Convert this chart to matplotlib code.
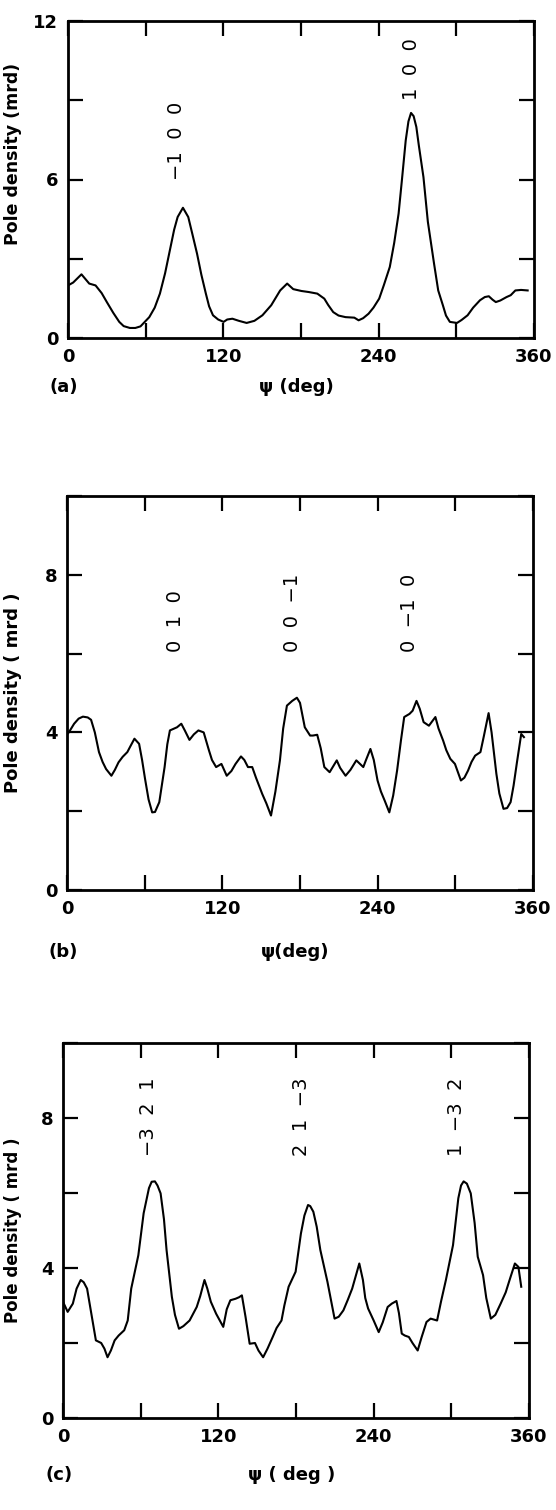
import matplotlib
matplotlib.use('Agg')
import matplotlib.pyplot as plt
from matplotlib.ticker import MultipleLocator, NullFormatter

plt.rcParams['font.family'] = ['DejaVu Sans']

# panel (a)
psi_a = [0, 4, 10.4, 16.4, 21.3, 26, 30, 35, 39.6, 43, 47.8, 52, 56, 62.8, 67, 71, 75, 79.2, 82,
         84.7, 88.8, 92.9, 96, 99.7, 103, 106.5, 109, 112, 116, 120.2, 123, 127, 132, 138, 144,
         150.2, 157, 163.9, 169.3, 174, 180.3, 186, 192.6, 198, 201, 204.9, 209, 214.4, 221.2,
         224.5, 228, 232.2, 236, 240.4, 244, 248.6, 252, 255.4, 258, 260.9, 263, 265, 267,
         269.1, 271, 274.6, 278, 282.8, 286, 289.6, 292, 295, 300.5, 304, 308.7, 313, 318.3,
         322, 325.1, 328, 330.5, 334, 338.8, 342, 345.6, 350, 355.1]
pd_a = [1.99, 2.1, 2.41, 2.06, 1.99, 1.7, 1.36, 0.95, 0.61, 0.45, 0.38, 0.38, 0.44, 0.79, 1.15,
        1.68, 2.45, 3.44, 4.1, 4.58, 4.93, 4.58, 3.95, 3.19, 2.4, 1.68, 1.2, 0.86, 0.7, 0.61,
        0.7, 0.73, 0.65, 0.57, 0.65, 0.86, 1.24, 1.8, 2.06, 1.85, 1.78, 1.74, 1.68, 1.49, 1.25,
        0.98, 0.85, 0.79, 0.77, 0.67, 0.75, 0.92, 1.15, 1.49, 2.0, 2.69, 3.6, 4.71, 6.0, 7.48,
        8.2, 8.52, 8.4, 7.99, 7.3, 6.09, 4.4, 2.81, 1.8, 1.24, 0.85, 0.61, 0.57, 0.68, 0.86,
        1.15, 1.43, 1.55, 1.58, 1.45, 1.36, 1.42, 1.55, 1.62, 1.80, 1.82, 1.80]
lab_a = ['\u22121  0  0', '1  0  0']
lab_a_x = [84, 265]
lab_a_y = [6.0, 9.0]

# panel (b)
psi_b = [0, 1.4, 5.5, 9, 12.3, 16, 18.6, 21.5, 24.7, 27.5, 30.2, 34.3, 37, 39.8, 43, 46.6, 49,
         52.1, 55.7, 58, 60.3, 63, 65.8, 68, 71.3, 73, 75.4, 77.5, 79.5, 85, 88.3, 91, 94.6,
         98, 101.5, 105.6, 109.7, 112, 115.2, 119.3, 123.4, 127, 130.2, 134.4, 137, 139.8,
         143.1, 146, 150.8, 154, 157.6, 161, 164.5, 167, 169.9, 174, 177.6, 180, 183.7, 187.8,
         190, 193.3, 196, 198.8, 202.9, 208.4, 211, 215.2, 219, 223.5, 228.9, 231, 234.4, 237,
         239.9, 242.5, 245.4, 249, 252, 255, 258, 260.5, 264.6, 267, 270, 272.5, 275.5, 279.6,
         284.6, 287, 290.6, 293, 296.1, 299.7, 304.3, 307, 309.8, 312.5, 315.3, 319.4, 322,
         325.7, 328, 331.7, 334, 337.2, 340, 342.7, 345, 347.6, 350.9, 353]
pd_b = [3.95, 4.0, 4.22, 4.35, 4.40, 4.38, 4.32, 4.0, 3.50, 3.25, 3.07, 2.90, 3.05, 3.24, 3.38,
        3.50, 3.65, 3.84, 3.71, 3.3, 2.82, 2.3, 1.97, 1.98, 2.23, 2.6, 3.12, 3.7, 4.05, 4.13,
        4.22, 4.05, 3.81, 3.95, 4.05, 4.0, 3.54, 3.3, 3.12, 3.20, 2.90, 3.02, 3.20, 3.39, 3.3,
        3.12, 3.12, 2.85, 2.44, 2.2, 1.89, 2.5, 3.29, 4.1, 4.68, 4.8, 4.88, 4.75, 4.13, 3.92,
        3.92, 3.94, 3.6, 3.12, 2.99, 3.29, 3.1, 2.90, 3.05, 3.29, 3.12, 3.3, 3.58, 3.3, 2.78,
        2.5, 2.27, 1.97, 2.4, 3.03, 3.8, 4.39, 4.47, 4.55, 4.80, 4.6, 4.26, 4.17, 4.39, 4.1,
        3.79, 3.55, 3.33, 3.20, 2.78, 2.85, 3.03, 3.25, 3.41, 3.50, 3.9, 4.49, 4.0, 2.95, 2.45,
        2.06, 2.08, 2.23, 2.65, 3.24, 3.96, 3.88]
lab_b = ['0  1  0', '0  0  \u22121', '0  \u22121  0']
lab_b_x = [83.6, 174, 264.6]
lab_b_y = [6.05, 6.05, 6.05]

# panel (c)
psi_c = [0, 3.6, 7.6, 10.5, 13.7, 16, 18.6, 21.9, 25.4, 29.5, 32, 34.4, 37, 39.9, 43, 47.3, 50,
         52.7, 58.2, 62.3, 66.4, 68.5, 71, 73, 75.4, 78, 80, 84.1, 86.5, 89.6, 93, 97.8, 103.3,
         106, 109.3, 111.5, 114.2, 118.3, 123.8, 126.5, 129.3, 133.3, 136, 138.2, 141, 144.2,
         148.3, 151, 154.6, 158, 162, 165, 168.8, 171, 174.3, 179.7, 183.8, 186.5, 189.3, 191,
         193.4, 196, 198.8, 204.3, 209.8, 213, 216.6, 220, 223.4, 228.9, 231.7, 233.5, 235.7,
         240, 243.9, 247, 250.8, 254, 257.6, 259.5, 261.7, 264, 267.2, 270, 274, 277, 280.8,
         284, 289, 292, 295.8, 301.3, 305.4, 307.5, 309.5, 312, 315, 318, 320.4, 324.5, 327,
         330.5, 334, 338.1, 342, 345, 349.1, 351.8, 354]
pd_c = [3.10, 2.83, 3.05, 3.45, 3.68, 3.62, 3.45, 2.78, 2.07, 2.0, 1.85, 1.62, 1.8, 2.07, 2.2,
        2.34, 2.6, 3.45, 4.34, 5.46, 6.13, 6.3, 6.31, 6.2, 5.99, 5.3, 4.48, 3.23, 2.75, 2.38,
        2.45, 2.60, 2.96, 3.25, 3.68, 3.45, 3.10, 2.78, 2.43, 2.9, 3.14, 3.18, 3.22, 3.27,
        2.7, 1.98, 2.0, 1.8, 1.62, 1.85, 2.16, 2.4, 2.60, 3.0, 3.50, 3.90, 4.92, 5.4, 5.68,
        5.65, 5.50, 5.1, 4.48, 3.63, 2.65, 2.7, 2.87, 3.15, 3.45, 4.12, 3.68, 3.2, 2.92, 2.6,
        2.29, 2.55, 2.96, 3.05, 3.12, 2.8, 2.25, 2.2, 2.16, 2.0, 1.80, 2.15, 2.56, 2.65, 2.60,
        3.1, 3.68, 4.61, 5.86, 6.2, 6.31, 6.25, 5.99, 5.2, 4.30, 3.81, 3.2, 2.65, 2.75, 3.05,
        3.35, 3.68, 4.12, 4.03, 3.50]
lab_c = ['\u22123  2  1', '2  1  \u22123', '1  \u22123  2']
lab_c_x = [66.4, 184, 304]
lab_c_y = [7.0, 7.0, 7.0]

fig = plt.figure(figsize=(5.56, 15.10), dpi=100)

panels = [
    # rect, x, y, labels, ymax, ystep, ylabel, size, label x, label y, xlabel, tag, offset
    ([68/556, 1-338/1510, 466/556, 317/1510], psi_a, pd_a, lab_a, lab_a_x, lab_a_y,
     12, 3, 'Pole density (mrd)', 12.5, -0.099, 0.58, '\u03c8 (deg)', '(a)', 49),
    ([67/556, 1-890/1510, 466/556, 394/1510], psi_b, pd_b, lab_b, lab_b_x, lab_b_y,
     10, 2, 'Pole density ( mrd )', 13.0, -0.097, 0.5, '\u03c8(deg)', '(b)', 62),
    ([63/556, 1-1418/1510, 466/556, 375/1510], psi_c, pd_c, lab_c, lab_c_x, lab_c_y,
     10, 2, 'Pole density ( mrd )', 12.0, -0.088, 0.5, '\u03c8 ( deg )', '(c)', 57),
]

for rect, x, y, labs, lx, ly, ymax, ystep, ylab, ylsize, ylx, yly, xlab, tag, dy in panels:
    ax = fig.add_axes(rect)
    ax.plot(x, y, color='black', lw=1.5)
    for t, px, py in zip(labs, lx, ly):
        ax.text(px, py, t, rotation=90, ha='center', va='bottom', fontsize=14)
    ax.set_xlim(0, 360)
    ax.set_ylim(0, ymax)
    ax.xaxis.set_major_locator(MultipleLocator(120))
    ax.xaxis.set_minor_locator(MultipleLocator(60))
    ax.yaxis.set_major_locator(MultipleLocator(2 * ystep))
    ax.yaxis.set_minor_locator(MultipleLocator(ystep))
    ax.xaxis.set_minor_formatter(NullFormatter())
    if ymax == 10:
        ax.set_yticks([0, 4, 8])
    ax.tick_params(which='both', direction='in', top=True, right=True,
                   length=11, width=1.6, pad=7, labelsize=13)
    for lbl in ax.get_xticklabels() + ax.get_yticklabels():
        lbl.set_fontweight('bold')
    for s in ax.spines.values():
        s.set_linewidth(2.0)
    ax.set_ylabel(ylab, fontsize=ylsize, fontweight='bold')
    ax.yaxis.set_label_coords(ylx, yly)
    ax.annotate(xlab, xy=(0.49, 0), xycoords='axes fraction', xytext=(0, -dy),
                textcoords='offset pixels', ha='center', va='center',
                fontsize=13, fontweight='bold')
    ax.annotate(tag, xy=(0, 0), xycoords='axes fraction', xytext=(-4, -dy),
                textcoords='offset pixels', ha='center', va='center',
                fontsize=13, fontweight='bold')

fig.savefig('out.png', dpi=100)
